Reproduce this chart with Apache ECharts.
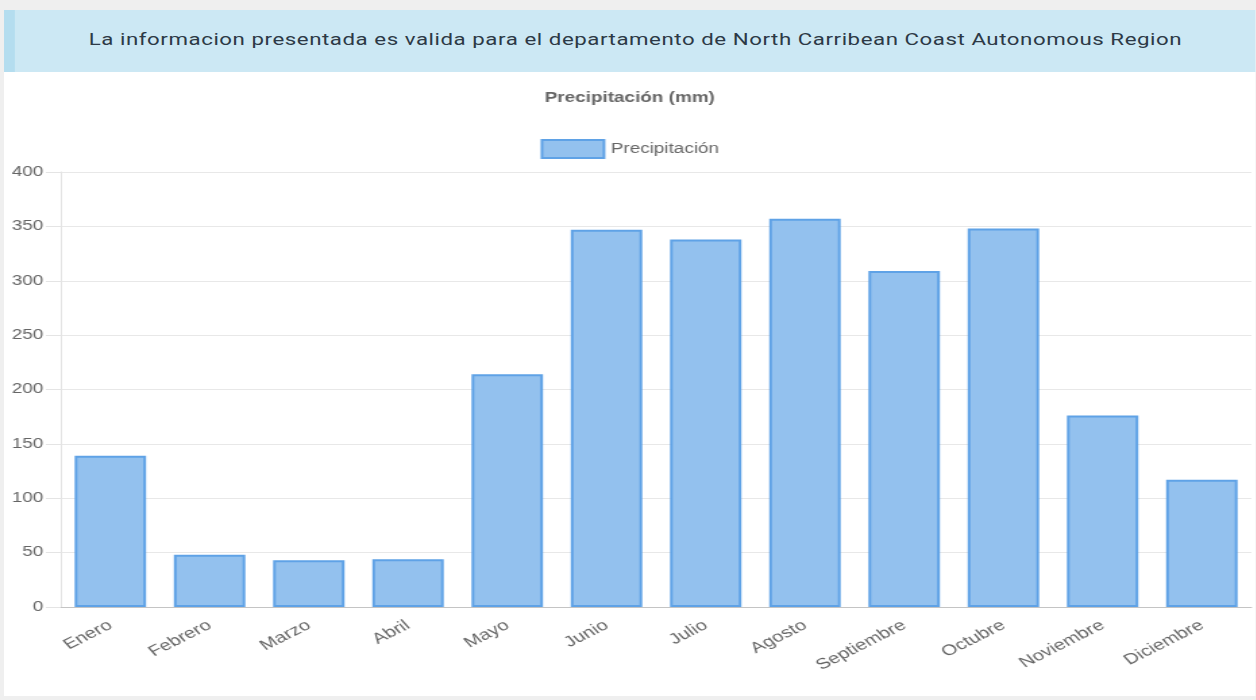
<!DOCTYPE html>
<html>
<head>
<meta charset="utf-8">
<title>Precipitación</title>
<script src="https://cdn.jsdelivr.net/npm/echarts@6/dist/echarts.min.js"></script>
<style>
    html, body {
        margin: 0;
        padding: 0;
        background: #efefef;
        overflow: hidden;
    }
    /* the reference is wider than it is tall, so the page is laid out narrow and stretched */
    #page {
        position: absolute;
        left: 0;
        top: 0;
        width: 930.4px;
        height: 700px;
        transform: scaleX(1.35);
        transform-origin: 0 0;
    }
    #card {
        position: absolute;
        left: 3px;
        top: 10px;
        right: 0;
        bottom: 4px;
        background: #fff;
    }
    #header {
        height: 62px;
        line-height: 60px;
        background: #cce8f4;
        border-left: 8px solid #b4ddef;
        text-align: center;
        color: #2c3946;
        font-family: Roboto, "Noto Sans", sans-serif;
        font-size: 16.5px;
        letter-spacing: 0.4px;
        box-sizing: border-box;
    }
    #chart {
        width: 100%;
        height: 624px;
    }
</style>
</head>
<body>
<div id="page">
    <div id="card">
        <div id="header">La informacion presentada es valida para el departamento de North Carribean Coast Autonomous Region</div>
        <div id="chart"></div>
    </div>
</div>
<script>
const months = ['Enero', 'Febrero', 'Marzo', 'Abril', 'Mayo', 'Junio', 'Julio',
    'Agosto', 'Septiembre', 'Octubre', 'Noviembre', 'Diciembre']
const precipitation = [139, 48, 43, 44, 214, 347, 338, 357, 309, 348, 176, 117]
const yMin = 0
const yMax = 400
const yStep = 50

const FONT = '"Liberation Sans", Arial, sans-serif'
const GREY = '#666'

const chart = echarts.init(document.getElementById('chart'))

const option = {
    animation: false,
    textStyle: { fontFamily: FONT },
    title: {
        text: 'Precipitación (mm)',
        left: 'center',
        top: 14,
        textStyle: { fontSize: 14, fontWeight: 'bold', color: GREY, fontFamily: FONT }
    },
    legend: {
        top: 62,
        left: 'center',
        icon: 'rect',
        itemWidth: 46,
        itemHeight: 18,
        itemGap: 10,
        textStyle: { fontSize: 14, color: GREY, fontFamily: FONT },
        data: ['Precipitación']
    },
    grid: {
        left: 42,
        right: 3,
        top: 100,
        bottom: 89,
        containLabel: false
    },
    xAxis: {
        type: 'category',
        data: months,
        axisLine: { lineStyle: { color: '#c4c4c4', width: 1 } },
        axisTick: { show: false },
        splitLine: { show: false },
        axisLabel: {
            rotate: 34,
            margin: 17,
            interval: 0,
            fontSize: 15,
            color: GREY,
            fontFamily: FONT
        }
    },
    yAxis: {
        type: 'value',
        min: yMin,
        max: yMax,
        interval: yStep,
        axisLine: { show: true, lineStyle: { color: '#e4e4e4' } },
        axisTick: { show: true, length: 11, lineStyle: { color: '#e4e4e4' } },
        splitLine: { lineStyle: { color: '#e8e8e8' } },
        axisLabel: { margin: 13, fontSize: 14, color: GREY, fontFamily: FONT }
    },
    series: [{
        name: 'Precipitación',
        type: 'bar',
        data: precipitation,
        barCategoryGap: '28%',
        itemStyle: {
            color: '#93c1ee',
            borderColor: '#5fa2e6',
            borderWidth: 2
        }
    }]
}

chart.setOption(option)
</script>
</body>
</html>
